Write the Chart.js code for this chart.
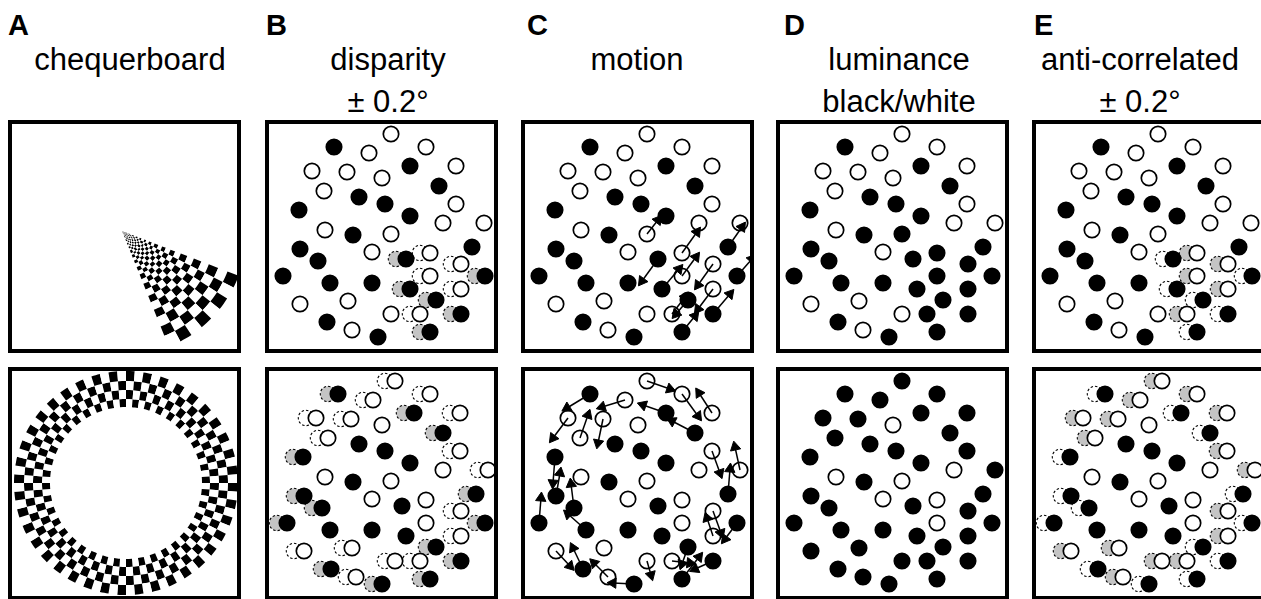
<!DOCTYPE html>
<html>
<head>
<meta charset="utf-8">
<script src="https://cdn.jsdelivr.net/npm/chart.js@4.4.0/dist/chart.umd.min.js"></script>
<style>
  html, body { margin: 0; padding: 0; background: #fff; }
  body { width: 1261px; height: 599px; position: relative; overflow: hidden;
         font-family: "Liberation Sans", Arial, sans-serif; color: #000; }
  .letter { position: absolute; font-weight: bold; font-size: 29px; line-height: 29px; }
  .label { position: absolute; font-size: 31px; line-height: 31px; white-space: nowrap; transform: translateX(-50%); }
  .panel { position: absolute; width: 233px; height: 233px; overflow: hidden; }
  .panel canvas { position: absolute; }
  .frame { position: absolute; left: 0; top: 0; width: 233px; height: 233px;
           border: 4px solid #000; box-sizing: border-box; }
</style>
</head>
<body>
<script>
// ---- data -------------------------------------------------------------
var letters = ['A', 'B', 'C', 'D', 'E'];
var titleLine1 = ['chequerboard', 'disparity', 'motion', 'luminance', 'anti-correlated'];
var titleLine2 = ['', '\u00b1 0.2\u00b0', '', 'black/white', '\u00b1 0.2\u00b0'];

// dot layout shared by all dot panels (panel pixels, 0..233)
var dotX = [126, 69, 104, 161, 145, 47, 82, 117, 191, 174, 59, 94, 120, 34, 191,
            145, 178, 219, 60, 88, 126, 35, 107, 207, 53, 18, 65, 107, 35, 83,
            62, 87, 113, 126, 137, 161, 192, 216, 161, 141, 192, 167, 151, 192, 161];
var dotY = [14, 27, 33, 27, 46, 51, 52, 58, 46, 66, 71, 77, 84, 90, 84,
            96, 103, 103, 110, 115, 114, 129, 132, 127, 141, 156, 163, 163, 184, 181,
            202, 210, 217, 194, 139, 133, 144, 156, 156, 169, 169, 180, 194, 194, 212];
// 1 = black dot, 0 = white dot
var dotDark = [0, 1, 0, 0, 1, 0, 0, 0, 0, 1, 0, 1, 1, 1, 0,
               1, 0, 0, 0, 1, 0, 1, 0, 1, 1, 1, 1, 1, 0, 0,
               1, 0, 1, 0, 1, 0, 0, 1, 0, 1, 0, 1, 0, 1, 1];

// dots (numbered from 1) inside the stimulus region
var wedgeDots = [35, 36, 37, 38, 39, 40, 41, 42, 43, 44, 45];
var wedgeDotsLum = [21, 35, 36, 37, 38, 39, 40, 41, 42, 43, 44, 45];
var ringDots = [1, 2, 3, 4, 5, 6, 7, 9, 10, 11, 14, 15, 18, 22, 24, 25, 26, 29, 30,
                31, 32, 33, 34, 37, 38, 41, 42, 43, 44, 45];

// motion arrows: [dot, dx, dy]
var wedgeArrows = [[21, 11, -14], [24, 14, -20], [35, -16, 22], [36, 15, -21], [37, -15, 21],
                   [38, 15, -17], [39, 14, -19], [40, 17, -20], [41, -15, 20], [42, -12, 14],
                   [43, 13, -17], [44, 17, -20], [45, 13, -16]];
var ringArrows = [[1, 23, 8], [2, -23, 14], [3, -23, 7], [4, 16, 22], [5, -23, -8], [6, -15, 20],
                  [7, -5, 24], [9, -13, -20], [10, -23, -12], [11, 8, -23], [14, -2, 26], [15, 8, 22],
                  [18, -5, -23], [22, 4, -23], [24, 2, -25], [25, -3, -24], [26, 2, -25], [27, -18, -16],
                  [29, 14, 15], [31, -10, -21], [32, -14, -14], [33, -21, -1], [34, 4, 14], [37, 8, 22],
                  [38, -12, 16], [41, -6, -18], [42, -6, 17], [43, 18, 2], [44, -18, 8], [45, 17, -22]];

// chequerboard wedge: ring edge radii (px) and angular extent
var wedgeEdges = [125, 113, 103, 93, 85, 77, 70, 63, 57, 52, 47, 43, 39, 35, 32, 29, 26, 24,
                  21, 19, 17, 15, 13, 11, 9, 7, 5, 3, 0];
var wedgeStart = 111, wedgeSpan = 47, wedgeSectors = 8;
// chequerboard annulus
var annulusEdges = [112, 102, 93, 84, 76];
var annulusSectors = 80;

// ---- layout -----------------------------------------------------------
var colLeft = [8, 265, 521, 776, 1032];
var rowTop = [120, 367];
var letterLeft = [8, 266, 527, 784, 1034];
var labelCenter = [130, 388, 637, 899, 1140];
var GREY = '#c4c4c4';

letters.forEach(function (t, i) {
  var d = document.createElement('div');
  d.className = 'letter'; d.textContent = t;
  d.style.left = letterLeft[i] + 'px'; d.style.top = '11px';
  document.body.appendChild(d);
  [titleLine1[i], titleLine2[i]].forEach(function (s, j) {
    if (!s) return;
    var l = document.createElement('div');
    l.className = 'label'; l.textContent = s;
    l.style.left = labelCenter[i] + 'px'; l.style.top = (j ? 86 : 44) + 'px';
    document.body.appendChild(l);
  });
});

function makePanel(col, row) {
  var p = document.createElement('div');
  p.className = 'panel';
  p.style.left = colLeft[col] + 'px'; p.style.top = rowTop[row] + 'px';
  document.body.appendChild(p);
  return p;
}
function addCanvas(p, left, top, w, h) {
  var c = document.createElement('canvas');
  c.width = w; c.height = h;
  c.style.left = left + 'px'; c.style.top = top + 'px';
  p.appendChild(c);
  var f = document.createElement('div');
  f.className = 'frame';
  p.appendChild(f);
  return c;
}

var dashPlugin = {
  id: 'ghostDash',
  beforeDatasetDraw: function (chart, args) {
    if (chart.data.datasets[args.index].ghost) chart.ctx.setLineDash([2.5, 2]);
  },
  afterDatasetDraw: function (chart) { chart.ctx.setLineDash([]); }
};

function dotPanel(col, row, cfg) {
  var c = addCanvas(makePanel(col, row), 0, 0, 233, 233);
  var shifted = cfg.shift || [], black = cfg.black || [], arrows = cfg.arrows || [];
  var main = [], mainCol = [], ghost = [], ghostCol = [];
  dotX.forEach(function (x, i) {
    var n = i + 1;
    var dark = dotDark[i] === 1 || black.indexOf(n) >= 0;
    if (shifted.indexOf(n) >= 0) {
      main.push({x: x + 4, y: dotY[i]});
      ghost.push({x: x - 6, y: dotY[i]});
      ghostCol.push(dark !== !!cfg.anti ? GREY : '#fff');
    } else {
      main.push({x: x, y: dotY[i]});
    }
    mainCol.push(dark ? '#000' : '#fff');
  });
  var datasets = [];
  arrows.forEach(function (a) {
    var x = dotX[a[0] - 1], y = dotY[a[0] - 1];
    var ang = Math.atan2(a[1], -a[2]) * 180 / Math.PI;
    datasets.push({
      data: [{x: x, y: y}, {x: x + a[1], y: y + a[2]}],
      showLine: true, borderColor: '#000', borderWidth: 1.5,
      pointRadius: [0, 6], pointStyle: 'triangle', pointRotation: [0, ang],
      pointBackgroundColor: '#000', pointBorderColor: '#000', pointBorderWidth: 1, order: 0
    });
  });
  datasets.push({data: main, pointRadius: 7.7, pointBorderWidth: 1.7,
                 pointBackgroundColor: mainCol, pointBorderColor: '#000', order: 1});
  if (ghost.length) datasets.push({data: ghost, ghost: true, pointRadius: 7.7, pointBorderWidth: 1.1,
                 pointBackgroundColor: ghostCol, pointBorderColor: '#000', order: 2});
  new Chart(c, {
    type: 'scatter',
    data: {datasets: datasets},
    options: {
      responsive: false, animation: false, events: [],
      layout: {padding: 0, autoPadding: false},
      plugins: {legend: {display: false}, tooltip: {enabled: false}},
      scales: {
        x: {type: 'linear', min: 0, max: 233, display: false},
        y: {type: 'linear', min: 0, max: 233, reverse: true, display: false}
      }
    },
    plugins: [dashPlugin]
  });
}

function checkerChart(c, edges, values, sectors, extra, options) {
  var datasets = [];
  for (var k = 0; k < edges.length - 1; k++) {
    var colors = [];
    for (var s = 0; s < sectors; s++) colors.push((s + k) % 2 ? '#fff' : '#000');
    if (extra) colors.push('rgba(0,0,0,0)');
    datasets.push({data: values, backgroundColor: colors, weight: edges[k] - edges[k + 1],
                   borderWidth: 0, hoverBorderWidth: 0, hoverOffset: 0});
  }
  new Chart(c, {
    type: 'doughnut',
    data: {datasets: datasets},
    options: Object.assign({
      responsive: false, animation: false, events: [],
      layout: {padding: 0, autoPadding: false},
      plugins: {legend: {display: false}, tooltip: {enabled: false}}
    }, options)
  });
}

// A top: wedge, apex at (114, 111) in the panel
(function () {
  var c = addCanvas(makePanel(0, 0), 114 - 125, 111 - 125, 250, 250);
  var vals = [];
  for (var s = 0; s < wedgeSectors; s++) vals.push(wedgeSpan / wedgeSectors);
  vals.push(360 - wedgeSpan);
  checkerChart(c, wedgeEdges, vals, wedgeSectors, true,
               {rotation: wedgeStart, cutout: 0, radius: 125});
})();

// A bottom: annulus centred at (118, 116)
(function () {
  var c = addCanvas(makePanel(0, 1), 118 - 112, 116 - 112, 224, 224);
  var vals = [];
  for (var s = 0; s < annulusSectors; s++) vals.push(1);
  checkerChart(c, annulusEdges, vals, annulusSectors, false,
               {rotation: 0, radius: 112, cutout: (annulusEdges[annulusEdges.length - 1] / 112 * 100) + '%'});
})();

dotPanel(1, 0, {shift: wedgeDots});
dotPanel(2, 0, {arrows: wedgeArrows});
dotPanel(3, 0, {black: wedgeDotsLum});
dotPanel(4, 0, {shift: wedgeDots, anti: true});
dotPanel(1, 1, {shift: ringDots});
dotPanel(2, 1, {arrows: ringArrows});
dotPanel(3, 1, {black: ringDots});
dotPanel(4, 1, {shift: ringDots, anti: true});
</script>
</body>
</html>
